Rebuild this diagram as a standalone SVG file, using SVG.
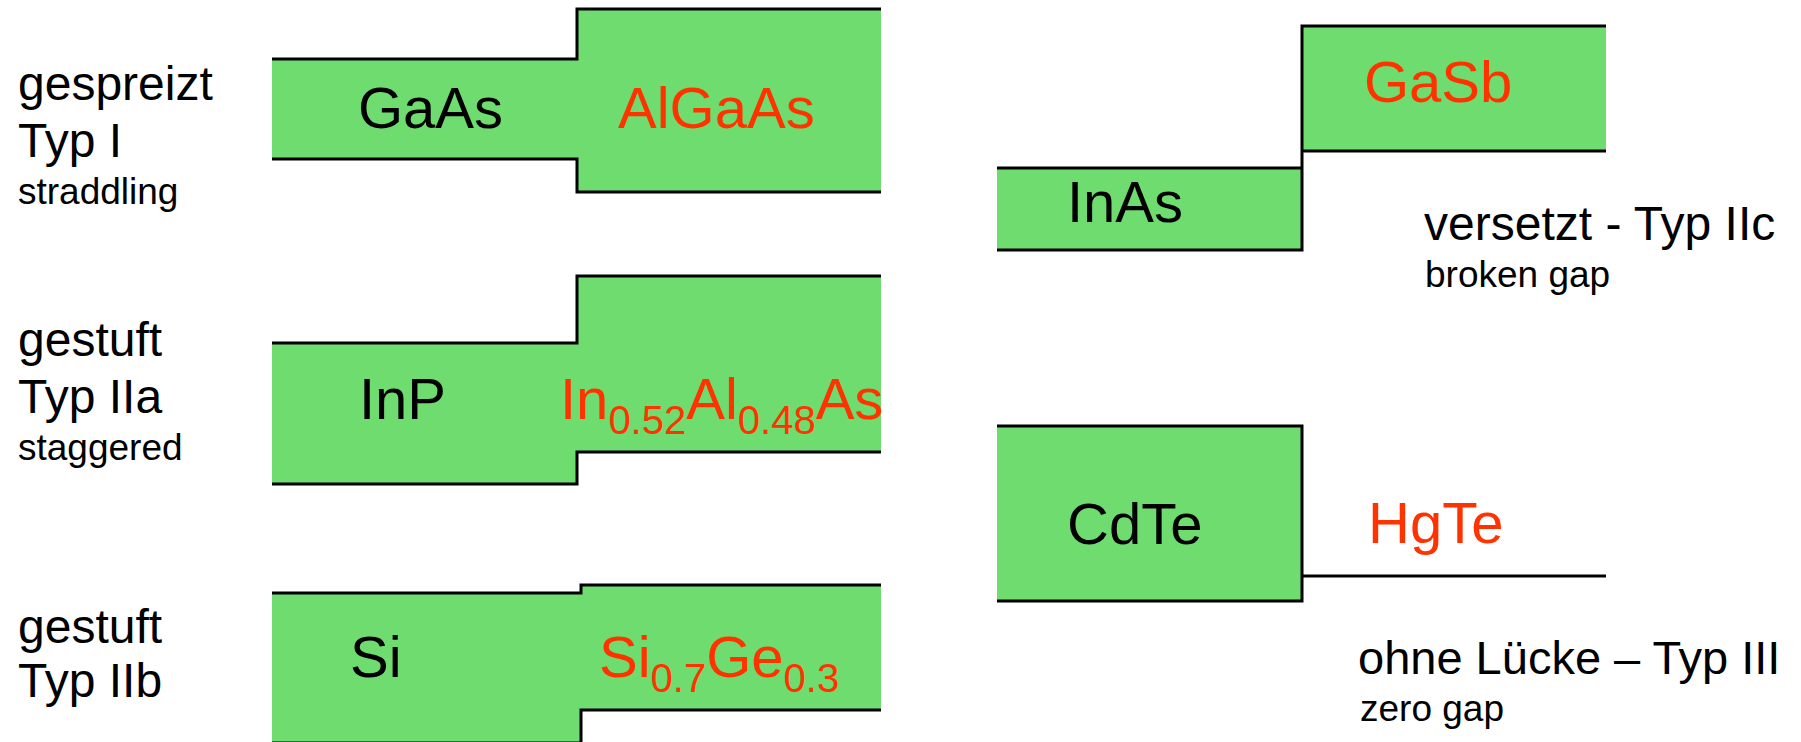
<svg xmlns="http://www.w3.org/2000/svg" width="1801" height="742" viewBox="0 0 1801 742">
  <style>
    .band { fill: #6fdc6f; stroke: none; }
    .edge { fill: none; stroke: #000; stroke-width: 3; stroke-linejoin: miter; }
    .mat { font-family: "Liberation Sans", Arial, sans-serif; font-size: 58px; }
    .sub { font-size: 40px; }
    .black { fill: #000; }
    .red { fill: #ff3300; }
    .lbl { font-family: "Liberation Sans", Arial, sans-serif; font-size: 48px; fill: #000; }
    .small { font-family: "Liberation Sans", Arial, sans-serif; font-size: 37px; fill: #000; }
  </style>
  <rect width="1801" height="742" fill="#fff"/>

  <!-- Type I: GaAs / AlGaAs -->
  <g id="typ-i">
    <polygon class="band" points="272,59 577,59 577,9 881,9 881,192 577,192 577,159 272,159"/>
    <path class="edge" d="M272 59 H577 V9 H881"/>
    <path class="edge" d="M272 159 H577 V192 H881"/>
    <text class="mat black" x="358" y="128">GaAs</text>
    <text class="mat red" x="618" y="128">AlGaAs</text>
    <text class="lbl" x="18" y="100">gespreizt</text>
    <text class="lbl" x="18" y="157">Typ I</text>
    <text class="small" x="18" y="204">straddling</text>
  </g>

  <!-- Type IIa: InP / InAlAs -->
  <g id="typ-iia">
    <polygon class="band" points="272,343 577,343 577,276 881,276 881,452 577,452 577,484 272,484"/>
    <path class="edge" d="M272 343 H577 V276 H881"/>
    <path class="edge" d="M272 484 H577 V452 H881"/>
    <text class="mat black" x="359" y="419">InP</text>
    <text class="mat red" x="560" y="419">In<tspan class="sub" dy="15">0.52</tspan><tspan dy="-15">Al</tspan><tspan class="sub" dy="15">0.48</tspan><tspan dy="-15">As</tspan></text>
    <text class="lbl" x="18" y="356">gestuft</text>
    <text class="lbl" x="18" y="413">Typ IIa</text>
    <text class="small" x="18" y="460">staggered</text>
  </g>

  <!-- Type IIb: Si / SiGe -->
  <g id="typ-iib">
    <polygon class="band" points="272,593 581,593 581,585 881,585 881,710 581,710 581,743 272,743"/>
    <path class="edge" d="M272 593 H581 V585 H881"/>
    <path class="edge" d="M272 743 H581 V710 H881"/>
    <text class="mat black" x="350" y="677">Si</text>
    <text class="mat red" x="599" y="677">Si<tspan class="sub" dy="15">0.7</tspan><tspan dy="-15">Ge</tspan><tspan class="sub" dy="15">0.3</tspan></text>
    <text class="lbl" x="18" y="643">gestuft</text>
    <text class="lbl" x="18" y="697">Typ IIb</text>
  </g>

  <!-- Type IIc: InAs / GaSb -->
  <g id="typ-iic">
    <rect class="band" x="997" y="168" width="305" height="82"/>
    <rect class="band" x="1302" y="26" width="304" height="125"/>
    <path class="edge" d="M997 168 H1302"/>
    <path class="edge" d="M997 250 H1302 V26 H1606"/>
    <path class="edge" d="M1302 151 H1606"/>
    <text class="mat black" x="1067" y="222">InAs</text>
    <text class="mat red" x="1364" y="102">GaSb</text>
    <text class="lbl" x="1424" y="240">versetzt - Typ IIc</text>
    <text class="small" x="1425" y="287">broken gap</text>
  </g>

  <!-- Type III: CdTe / HgTe -->
  <g id="typ-iii">
    <rect class="band" x="997" y="426" width="305" height="175"/>
    <path class="edge" d="M997 426 H1302 V601 H997"/>
    <path class="edge" d="M1302 576 H1606"/>
    <text class="mat black" x="1067" y="544">CdTe</text>
    <text class="mat red" x="1368" y="543">HgTe</text>
    <text class="lbl" x="1358" y="674" style="font-size:47px">ohne Lücke – Typ III</text>
    <text class="small" x="1360" y="721">zero gap</text>
  </g>
</svg>
